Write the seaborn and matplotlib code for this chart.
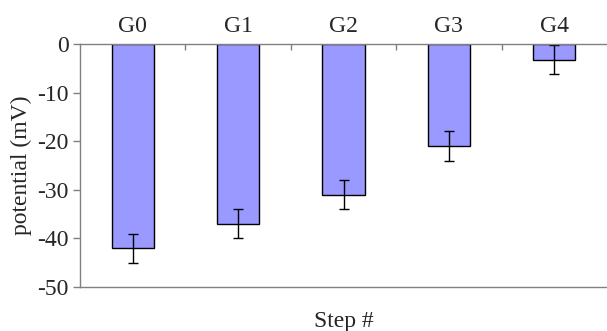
import matplotlib
matplotlib.use("Agg")
import matplotlib.pyplot as plt
import seaborn as sns
import pandas as pd
import numpy as np

steps = ["G0", "G1", "G2", "G3", "G4"]
potential = [-42.0, -37.0, -31.0, -21.0, -3.2]
errors = [3.0, 3.0, 3.0, 3.0, 3.0]
yticks = [0, -10, -20, -30, -40, -50]

sns.set_style("white")
plt.rcParams['font.family'] = ['Liberation Serif', 'DejaVu Serif']

df = pd.DataFrame({"step": steps, "potential": potential})

fig = plt.figure(figsize=(6.07, 3.31), dpi=100)
ax = fig.add_axes([80/607, 1-287/331, 1-80/607, (287-44)/331])

sns.barplot(data=df, x="step", y="potential", color="#9999FF", saturation=1,
            edgecolor="black", linewidth=1.0, width=0.4, errorbar=None, ax=ax)
ax.errorbar(np.arange(len(steps)), potential, yerr=errors, fmt="none",
            ecolor="black", elinewidth=1.0, capsize=3.8, capthick=1.0)

fs = 17
ax.set_xlim(-0.5, len(steps) - 0.5)
ax.set_ylim(-50, 0)
ax.set_yticks(yticks)
ax.set_yticklabels([str(t) if t == 0 else "-" + str(-t) for t in yticks])
ax.xaxis.tick_top()
ax.set_xticks(np.arange(len(steps)))
ax.set_xticklabels(steps)
ax.tick_params(axis="x", which="major", length=0, pad=5, labelsize=fs)
ax.set_xticks(np.arange(len(steps) - 1) + 0.5, minor=True)
ax.tick_params(axis="x", which="minor", top=True, direction="in", length=4,
               width=1, color="#808080")
ax.tick_params(axis="y", left=True, direction="out", length=5, width=1,
               color="#808080", labelsize=fs, pad=3)

for side in ["top", "bottom", "left"]:
    ax.spines[side].set_color("#808080")
    ax.spines[side].set_linewidth(1.0)
ax.spines["right"].set_visible(False)

ax.set_xlabel("Step #", fontsize=fs)
ax.xaxis.set_label_position("bottom")
ax.xaxis.set_label_coords(0.5, -0.1)
ax.set_ylabel("potential (mV)", fontsize=fs)
ax.yaxis.set_label_coords(-0.091, 0.5)

fig.savefig("out.png", dpi=100)
